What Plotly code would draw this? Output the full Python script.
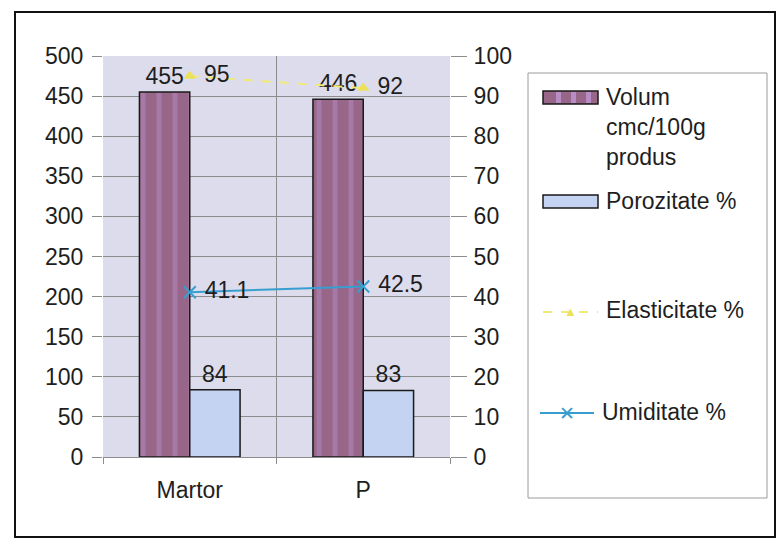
import plotly.graph_objects as go

# Sample categories and measured values
categories = ["Martor", "P"]
volum = [455, 446]          # Volum cmc/100g produs (left axis)
porozitate = [84, 83]       # Porozitate % (left axis)
elasticitate = [95, 92]     # Elasticitate % (right axis)
umiditate = [41.1, 42.5]    # Umiditate % (right axis)

series_names = ["Volum<br>cmc/100g<br>produs", "Porozitate %",
                "Elasticitate %", "Umiditate %"]

left_ticks = list(range(0, 501, 50))
right_ticks = list(range(0, 101, 10))

FONT = "Liberation Sans, Arial, sans-serif"
FS = 23
INK = "#1e1e1e"

VOL_COLOR = "#976688"
VOL_STRIPE = "#b88cc4"
POR_COLOR = "#c4d3f1"
ELA_COLOR = "#f1ea78"
UMI_COLOR = "#379fd0"

fig = go.Figure()

fig.add_trace(go.Bar(
    x=categories, y=volum, name=series_names[0],
    text=[str(v) for v in volum], textposition="outside",
    textfont=dict(size=FS, color=INK),
    marker=dict(color=VOL_COLOR, line=dict(color="#1a1a1a", width=1.5),
                pattern=dict(shape="|", fgcolor=VOL_STRIPE, bgcolor=VOL_COLOR,
                             size=16, solidity=0.3)),
    cliponaxis=False,
))
fig.add_trace(go.Bar(
    x=categories, y=porozitate, name=series_names[1],
    text=[str(v) for v in porozitate], textposition="outside",
    textfont=dict(size=FS, color=INK),
    marker=dict(color=POR_COLOR, line=dict(color="#1a1a1a", width=1.5)),
    cliponaxis=False,
))
fig.add_trace(go.Scatter(
    x=categories, y=elasticitate, name=series_names[2], yaxis="y2",
    mode="lines+markers+text",
    text=["\u00a0" + str(v) for v in elasticitate],
    textposition="middle right", textfont=dict(size=FS, color=INK),
    line=dict(color=ELA_COLOR, width=2, dash="dash"),
    marker=dict(symbol="triangle-up", size=11, color="#ece15a"),
    cliponaxis=False,
))
fig.add_trace(go.Scatter(
    x=categories, y=umiditate, name=series_names[3], yaxis="y2",
    mode="lines+markers+text",
    text=["\u00a0" + str(v) for v in umiditate],
    textposition="middle right", textfont=dict(size=FS, color=INK),
    line=dict(color=UMI_COLOR, width=2),
    marker=dict(symbol="x-thin", size=12, color=UMI_COLOR,
                line=dict(color=UMI_COLOR, width=2)),
    cliponaxis=False,
))

# Pixel-to-paper helpers for the frames and the boxed legend
L, R, T, B = 103, 450, 56, 457
def px(x):
    return (x - L) / (R - L)
def py(y):
    return (B - y) / (B - T)

shapes = [
    # outer chart frame
    dict(type="rect", xref="paper", yref="paper",
         x0=px(15), x1=px(775), y0=py(537), y1=py(12),
         line=dict(color="#111", width=2), layer="below"),
    # legend frame
    dict(type="rect", xref="paper", yref="paper",
         x0=px(528), x1=px(767), y0=py(498), y1=py(73),
         line=dict(color="#9a9a9a", width=1), layer="below"),
    # legend swatches
    dict(type="rect", xref="paper", yref="paper",
         x0=px(543), x1=px(598), y0=py(104), y1=py(91),
         fillcolor=VOL_COLOR, line=dict(color="#1a1a1a", width=1.5)),
    dict(type="rect", xref="paper", yref="paper",
         x0=px(543), x1=px(598), y0=py(208), y1=py(195),
         fillcolor=POR_COLOR, line=dict(color="#1a1a1a", width=1.5)),
    dict(type="line", xref="paper", yref="paper",
         x0=px(543), x1=px(598), y0=py(312), y1=py(312),
         line=dict(color=ELA_COLOR, width=2, dash="dash")),
    dict(type="line", xref="paper", yref="paper",
         x0=px(540), x1=px(594), y0=py(413), y1=py(413),
         line=dict(color=UMI_COLOR, width=2)),
]
# stripes on the Volum swatch
for sx in (556, 571, 586):
    shapes.append(dict(type="rect", xref="paper", yref="paper",
                       x0=px(sx), x1=px(sx + 5), y0=py(103), y1=py(92),
                       fillcolor=VOL_STRIPE, line=dict(width=0)))

annotations = [
    dict(text=series_names[0], x=px(604), y=py(82), xref="paper", yref="paper",
         xanchor="left", yanchor="top", align="left", showarrow=False,
         font=dict(size=FS, color=INK)),
    dict(text=series_names[1], x=px(604), y=py(201), xref="paper", yref="paper",
         xanchor="left", yanchor="middle", showarrow=False,
         font=dict(size=FS, color=INK)),
    dict(text=series_names[2], x=px(604), y=py(310), xref="paper", yref="paper",
         xanchor="left", yanchor="middle", showarrow=False,
         font=dict(size=FS, color=INK)),
    dict(text=series_names[3], x=px(600), y=py(412), xref="paper", yref="paper",
         xanchor="left", yanchor="middle", showarrow=False,
         font=dict(size=FS, color=INK)),
    # marker glyphs on the line swatches
    dict(text="\u25b2", x=px(570), y=py(311), xref="paper", yref="paper",
         xanchor="center", yanchor="middle", showarrow=False,
         font=dict(size=13, color="#ece15a")),
    dict(text="\u2715", x=px(567), y=py(413), xref="paper", yref="paper",
         xanchor="center", yanchor="middle", showarrow=False,
         font=dict(size=19, color=UMI_COLOR)),
]

fig.update_layout(
    width=780, height=549,
    margin=dict(l=L, r=780 - R, t=T, b=549 - B),
    paper_bgcolor="white",
    plot_bgcolor="#dcdcec",
    font=dict(family=FONT, size=FS, color=INK),
    barmode="group", bargap=0.42, bargroupgap=0,
    showlegend=False,
    xaxis=dict(type="category", showgrid=True, gridcolor="#8c8c8c", gridwidth=1,
               tickson="boundaries", ticks="outside", ticklen=6,
               tickcolor="#8c8c8c", showline=True, linecolor="#8c8c8c",
               tickfont=dict(size=FS), ticklabelstandoff=12),
    yaxis=dict(range=[0, 500], tickvals=left_ticks, showgrid=True,
               gridcolor="#8c8c8c", gridwidth=1, ticks="outside", ticklen=10,
               tickcolor="#8c8c8c", showline=False, zeroline=False,
               tickfont=dict(size=FS), ticklabelstandoff=4),
    yaxis2=dict(range=[0, 100], tickvals=right_ticks, overlaying="y",
                side="right", showgrid=False, ticks="outside", ticklen=16,
                tickcolor="#8c8c8c", showline=False, zeroline=False,
                tickfont=dict(size=FS), ticklabelstandoff=2),
    shapes=shapes,
    annotations=annotations,
)

fig.write_html("out.html")
